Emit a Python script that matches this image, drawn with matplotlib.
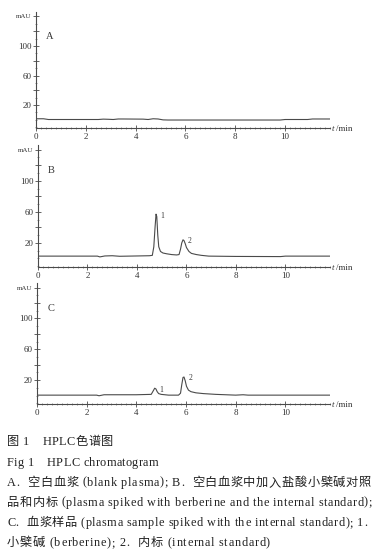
import matplotlib
matplotlib.use("Agg")
import matplotlib.pyplot as plt
from matplotlib.ticker import MultipleLocator, FixedLocator, FixedFormatter
from matplotlib.font_manager import FontProperties

# ---------------- data ----------------
A_t = [0, 0.3, 0.5, 2.5, 2.7, 2.9, 3.1, 3.3, 3.5, 4.3, 4.5, 4.7, 4.9, 5.1, 5.3, 9.8, 10.0, 10.9, 11.1, 11.8]
A_y = [1.5, 1.5, 0.5, 0.5, 1.0, 0.8, 0.5, 1.2, 1.2, 1.0, 0.5, 1.5, 1.2, 0.0, -0.2, -0.2, 0.5, 0.5, 1.2, 1.2]

B_t = [0, 2.4, 2.5, 2.7, 3.0, 3.3, 4.0, 4.5, 4.62, 4.68, 4.73, 4.77, 4.80, 4.84, 4.88, 4.95, 5.05, 5.2,
       5.4, 5.6, 5.7, 5.76, 5.81, 5.86, 5.90, 5.95, 6.0, 6.1, 6.2, 6.4, 6.6, 6.9, 8.0, 9.8, 10.0, 11.8]
B_y = [3.0, 3.0, 2.0, 3.2, 3.5, 2.8, 3.2, 3.5, 4.0, 15, 40, 57, 54, 30, 15, 9, 7, 6,
       5, 4.5, 5.0, 12, 20, 24, 23, 19, 14, 9, 6.5, 5, 4, 3, 2.6, 2.4, 3.0, 3.0]

C_t = [0, 2.4, 2.5, 2.7, 4.0, 4.6, 4.68, 4.74, 4.79, 4.84, 4.9, 5.0, 5.3, 5.7, 5.78, 5.83, 5.88, 5.92,
       5.97, 6.02, 6.1, 6.2, 6.4, 6.7, 7.2, 8.0, 8.3, 8.5, 9.8, 11.8]
C_y = [0.5, 0.5, -0.3, 1.0, 1.0, 1.5, 6, 9.5, 8.5, 5, 2.5, 1.5, 0.5, 0.5, 3, 14, 23.5, 24,
       19, 12, 7, 5, 3.5, 2.5, 1.5, 0.5, 1.0, 0.5, 0.5, 0.5]

panel_names = ["A", "B", "C"]
peak_labels = {"B": ["1", "2"], "C": ["1", "2"]}
peak_windows = [(4.5, 5.2), (5.6, 6.3)]

x_ticks = [0, 2, 4, 6, 8, 10]
y_ticks = [20, 40, 60, 80, 100, 120, 140]
y_ticklabels = ["20", "", "60", "", "100", "", "mAU"]

caption_lines = [
    "图 1\u3000HPLC色谱图",
    "Fig 1\u3000HPLC chromatogram",
    "A.  空白血浆 (blank plasma); B.  空白血浆中加入盐酸小檗碱对照",
    "品和内标 (plasma spiked with berberine and the internal standard);",
    "C.  血浆样品 (plasma sample spiked with the internal standard); 1.",
    "小檗碱 (berberine); 2.  内标 (internal standard)",
]

# ---------------- figure ----------------
W, H = 376, 557
fig = plt.figure(figsize=(W / 100, H / 100), dpi=100)
fig.patch.set_facecolor("white")

serif = ["Liberation Serif", "Noto Sans CJK SC"]
ink = "#4a4a4a"

# axes rectangles in pixels: left, top, right, bottom
rects = [(36, 12, 330, 128), (38, 145, 330, 267), (37, 283, 330, 404)]
series = [(A_t, A_y), (B_t, B_y), (C_t, C_y)]

for name, (l, t, r, b), (xs, ys) in zip(panel_names, rects, series):
    ax = fig.add_axes([l / W, 1 - b / H, (r - l) / W, (b - t) / H])
    ax.plot(xs, ys, color=ink, lw=0.8)
    ax.set_xlim(0, 11.8)
    ax.set_ylim(-11, 146)
    for s in ["top", "right"]:
        ax.spines[s].set_visible(False)
    for s in ["left", "bottom"]:
        ax.spines[s].set_color(ink)
        ax.spines[s].set_linewidth(0.8)
    ax.xaxis.set_major_locator(FixedLocator(x_ticks))
    ax.xaxis.set_minor_locator(MultipleLocator(0.2))
    ax.yaxis.set_major_locator(FixedLocator(y_ticks))
    ax.yaxis.set_major_formatter(FixedFormatter(y_ticklabels))
    ax.yaxis.set_minor_locator(MultipleLocator(10))
    ax.tick_params(axis="both", which="major", direction="inout", length=4, width=0.6,
                   color=ink, labelsize=6.5, labelcolor="#333333", pad=1)
    ax.tick_params(axis="both", which="minor", direction="inout", length=2, width=0.4, color=ink)
    ax.tick_params(axis="x", which="major", pad=1.5)
    for lab in ax.get_xticklabels() + ax.get_yticklabels():
        lab.set_family(serif)
    ylabs = ax.get_yticklabels()
    ylabs[-1].set_fontsize(5)
    ax.text(0.035, 0.79, name, transform=ax.transAxes, family=serif, fontsize=7.5,
            color="#333333", ha="left", va="center")
    ax.text(1.004, -0.01, "t", transform=ax.transAxes, family=serif, fontsize=6.5,
            style="italic", color="#333333", ha="left", va="center")
    ax.text(1.022, -0.01, "/min", transform=ax.transAxes, family=serif, fontsize=6.5,
            color="#333333", ha="left", va="center")
    if name in peak_labels:
        for lab, (lo, hi) in zip(peak_labels[name], peak_windows):
            idx = [i for i, tt in enumerate(xs) if lo <= tt <= hi]
            k = max(idx, key=lambda i: ys[i])
            ax.annotate(lab, (xs[k], ys[k]), xytext=(3, -1), textcoords="offset points",
                        family=serif, fontsize=5.5, color="#333333", ha="left", va="center")

# ---------------- caption (letter-spaced, justified like the print) ----------------
renderer = fig.canvas.get_renderer()
line_y = [441.7, 462.7, 482.7, 502.7, 523, 543]
line_right = [113, 155, 371, 372, 367, 270]
weights = ["normal", "normal", "normal", "normal", "normal", "normal"]
cap_size = 8.8


def char_width(ch, prop):
    if ch == " ":
        w1, _, _ = renderer.get_text_width_height_descent("a a", prop, ismath=False)
        w2, _, _ = renderer.get_text_width_height_descent("aa", prop, ismath=False)
        return w1 - w2
    w, _, _ = renderer.get_text_width_height_descent(ch, prop, ismath=False)
    return w


for txt, yy, xr, wt in zip(caption_lines, line_y, line_right, weights):
    prop = FontProperties(family=serif, size=cap_size, weight=wt)
    widths = [char_width(c, prop) for c in txt]
    natural = sum(widths)
    x0 = 7.0
    track = max((xr - x0 - natural) / max(len(txt) - 1, 1), 0.3)
    x = x0
    for c, w in zip(txt, widths):
        if c != " ":
            fig.text(x / W, 1 - yy / H, c, fontproperties=prop, color="#222222",
                     ha="left", va="center")
        x += w + track

fig.savefig("out.png", dpi=100, facecolor="white")
